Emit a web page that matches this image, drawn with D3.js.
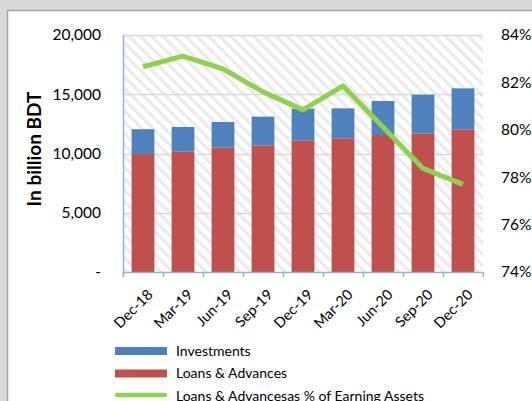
<!DOCTYPE html>
<html>
<head>
<meta charset="utf-8">
<script src="https://cdn.jsdelivr.net/npm/d3@7"></script>
<style>
  html, body { margin: 0; padding: 0; background: #d9d9d9; }
  svg { display: block; }
  text { font-family: Lato, "Open Sans", sans-serif; fill: #000; }
</style>
</head>
<body>
<script>
// Quarterly balance-sheet figures (billion BDT) and loan share of earning assets
const quarters = ["Dec-18", "Mar-19", "Jun-19", "Sep-19", "Dec-19", "Mar-20", "Jun-20", "Sep-20", "Dec-20"];
const loansAdvances = [9950, 10150, 10490, 10690, 11110, 11280, 11560, 11700, 12040];
const investments = [2100, 2090, 2170, 2420, 2670, 2530, 2870, 3260, 3460];
const loanSharePct = [82.66, 83.11, 82.57, 81.6, 80.84, 81.85, 80.12, 78.37, 77.7];
const leftTicks = [0, 5000, 10000, 15000, 20000];
const rightTicks = [74, 76, 78, 80, 82, 84];
const seriesNames = ["Investments", "Loans & Advances", "Loans & Advancesas % of Earning Assets"];
const seriesColors = ["#4f81bd", "#c0504d", "#92d050"];

const W = 532, H = 401;
const plot = { left: 123, right: 483, top: 35, bottom: 272 };

const svg = d3.select("body").append("svg").attr("width", W).attr("height", H);

// white chart panel with grey frame
svg.append("rect").attr("x", 7.5).attr("y", 10.5).attr("width", W).attr("height", H)
  .attr("fill", "#fff").attr("stroke", "#a6a6a6").attr("stroke-width", 1.5);

// diagonal hatch for plot background
const defs = svg.append("defs");
const pat = defs.append("pattern").attr("id", "hatch").attr("patternUnits", "userSpaceOnUse")
  .attr("width", 8).attr("height", 8).attr("patternTransform", "rotate(-45)");
pat.append("rect").attr("width", 8).attr("height", 8).attr("fill", "#fff");
pat.append("rect").attr("x", 0).attr("y", 0).attr("width", 3.2).attr("height", 8).attr("fill", "#ebebeb");

const x = d3.scaleBand().domain(quarters).range([plot.left, plot.right]).paddingInner(0.43).paddingOuter(0.215);
const xb = d3.scaleBand().domain(quarters).range([plot.left, plot.right]);
const y = d3.scaleLinear().domain([0, 20000]).range([plot.bottom, plot.top]);
const y2 = d3.scaleLinear().domain([74, 84]).range([plot.bottom, plot.top]);

svg.append("rect").attr("x", plot.left).attr("y", plot.top)
  .attr("width", plot.right - plot.left).attr("height", plot.bottom - plot.top)
  .attr("fill", "url(#hatch)");

// horizontal gridlines
svg.append("g").selectAll("line").data(leftTicks.filter(d => d > 0)).join("line")
  .attr("x1", plot.left).attr("x2", plot.right)
  .attr("y1", d => Math.round(y(d)) + 0.5).attr("y2", d => Math.round(y(d)) + 0.5)
  .attr("stroke", "#d9d9d9").attr("stroke-width", 1.5);

// stacked bars
const stack = quarters.map((q, i) => ({ q, loans: loansAdvances[i], inv: investments[i] }));
const bars = svg.append("g");
bars.selectAll(".loan").data(stack).join("rect")
  .attr("x", d => x(d.q)).attr("width", x.bandwidth())
  .attr("y", d => y(d.loans)).attr("height", d => y(0) - y(d.loans))
  .attr("fill", seriesColors[1]);
bars.selectAll(".inv").data(stack).join("rect")
  .attr("x", d => x(d.q)).attr("width", x.bandwidth())
  .attr("y", d => y(d.loans + d.inv)).attr("height", d => y(d.loans) - y(d.loans + d.inv))
  .attr("fill", seriesColors[0]);

// loan share line on the right axis
const line = d3.line().x((d, i) => xb(quarters[i]) + xb.bandwidth() / 2).y(d => y2(d));
svg.append("path").datum(loanSharePct).attr("d", line)
  .attr("fill", "none").attr("stroke", seriesColors[2]).attr("stroke-width", 5)
  .attr("stroke-linejoin", "round").attr("stroke-linecap", "butt");

// left axis
const axisColor = "#95b3d7";
svg.append("line").attr("x1", plot.left + 0.5).attr("x2", plot.left + 0.5)
  .attr("y1", plot.top).attr("y2", plot.bottom + 5).attr("stroke", axisColor).attr("stroke-width", 1.5);
svg.append("g").selectAll("text").data(leftTicks).join("text")
  .attr("x", 101).attr("y", d => y(d)).attr("dy", "0.35em").attr("text-anchor", "end")
  .style("font-size", "15.5px")
  .text(d => d === 0 ? "-" : d3.format(",")(d));

// bottom axis with ticks at category boundaries
svg.append("line").attr("x1", plot.left).attr("x2", plot.right)
  .attr("y1", plot.bottom + 0.5).attr("y2", plot.bottom + 0.5).attr("stroke", axisColor).attr("stroke-width", 1.5);
svg.append("g").selectAll("line").data(quarters.concat(["end"])).join("line")
  .attr("x1", (d, i) => plot.left + i * xb.bandwidth() + 0.5)
  .attr("x2", (d, i) => plot.left + i * xb.bandwidth() + 0.5)
  .attr("y1", plot.bottom).attr("y2", plot.bottom + 5)
  .attr("stroke", axisColor).attr("stroke-width", 1.5);
svg.append("g").selectAll("text").data(quarters).join("text")
  .attr("transform", d => `translate(${xb(d) + xb.bandwidth() / 2 + 7},${plot.bottom + 20}) rotate(-45)`)
  .attr("text-anchor", "end").attr("dy", "0.35em")
  .style("font-size", "14.5px")
  .text(d => d);

// right axis labels
svg.append("g").selectAll("text").data(rightTicks).join("text")
  .attr("x", 501).attr("y", d => y2(d)).attr("dy", "0.35em")
  .style("font-size", "15.5px")
  .text(d => d + "%");

// axis title
svg.append("text").attr("transform", `translate(41,149) rotate(-90)`)
  .attr("text-anchor", "middle").style("font-size", "19px").style("font-weight", "bold")
  .text("In billion BDT");

// legend
const lg = svg.append("g");
const rows = [0, 1, 2];
lg.selectAll("rect").data(rows.slice(0, 2)).join("rect")
  .attr("x", 115).attr("y", i => 347 + i * 22.5).attr("width", 52).attr("height", 8)
  .attr("fill", i => seriesColors[i]);
lg.append("line").attr("x1", 117).attr("x2", 165).attr("y1", 395).attr("y2", 395)
  .attr("stroke", seriesColors[2]).attr("stroke-width", 4.5).attr("stroke-linecap", "round");
lg.selectAll("text").data(rows).join("text")
  .attr("x", 176).attr("y", i => 351 + i * 22.5).attr("dy", "0.35em")
  .style("font-size", "14px")
  .text(i => seriesNames[i]);
</script>
</body>
</html>
